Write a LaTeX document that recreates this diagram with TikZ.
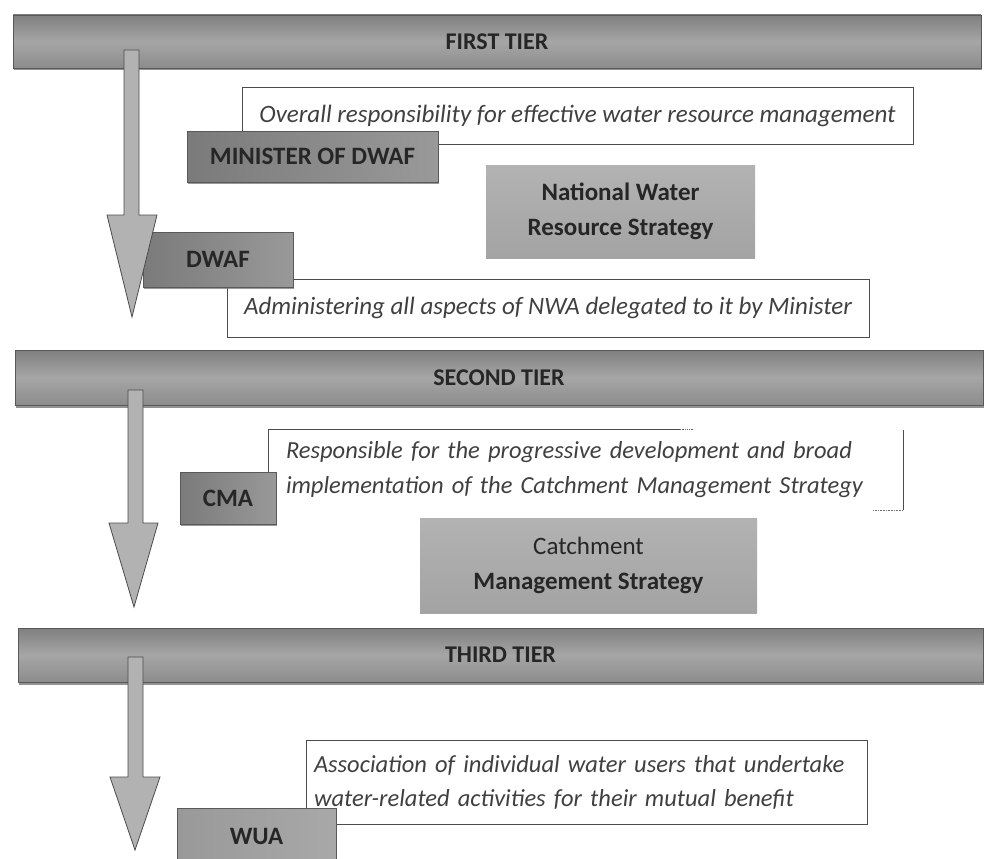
\documentclass[tikz,border=0pt]{standalone}
\usepackage{fontspec}
\setmainfont{Carlito}
\usetikzlibrary{calc,shadows}
\begin{document}
\begin{tikzpicture}[x=1pt,y=-1pt,
  tierbar/.style={rectangle, inner sep=0pt, draw=black!65, line width=0.8pt,
    top color=black!50, bottom color=black!45, middle color=black!35,
    drop shadow={shadow xshift=0.5pt, shadow yshift=-2.5pt, opacity=0.85},
    font=\fontsize{24}{28}\selectfont\bfseries, text=black!85},
  labelbox/.style={rectangle, inner sep=0pt, draw=black!65, line width=0.7pt,
    left color=black!52, right color=black!40,
    drop shadow={shadow xshift=1pt, shadow yshift=-2pt, opacity=0.8},
    font=\fontsize{25}{28}\selectfont\bfseries, text=black!85},
  stratbox/.style={rectangle, inner sep=0pt, draw=none,
    top color=black!30, bottom color=black!36,
    drop shadow={shadow xshift=0pt, shadow yshift=-2pt, opacity=0.7},
    font=\fontsize{25}{35}\selectfont, text=black!85, align=center},
  notebox/.style={rectangle, inner sep=0pt, draw=black!70, line width=0.8pt, fill=white,
    font=\fontsize{25}{34}\selectfont\itshape, text=black!75},
  notefree/.style={rectangle, inner sep=0pt, fill=white,
    font=\fontsize{24.5}{35}\selectfont\itshape, text=black!75},
  boxline/.style={draw=black!70, line width=0.8pt},
  flowarrow/.style={fill=black!30, draw=black!70, line width=0.8pt, line join=miter}
]
\useasboundingbox (0,0) rectangle (989,859);
\clip (0,0) rectangle (989,859);
\fill[white] (0,0) rectangle (989,859);

% ---------- FIRST TIER ----------
\node[tierbar, minimum width=968pt, minimum height=53pt] (t1) at (497,41.5) {FIRST TIER};

\node[notebox, minimum width=671pt, minimum height=57pt] (resp1) at (577.5,115.5)
  {Overall responsibility for effective water resource management};
\node[labelbox, minimum width=251pt, minimum height=51pt] (minister) at (312.5,156.5)
  {MINISTER OF DWAF};
\node[stratbox, minimum width=269pt, minimum height=92pt] (nwrs) at (620.5,211)
  {\bfseries National Water\\ \bfseries Resource Strategy};
\node[notebox, minimum width=642pt, minimum height=58pt] (admin) at (548,308)
  {Administering all aspects of NWA delegated to it by Minister};
\node[labelbox, minimum width=150pt, minimum height=55pt] (dwaf) at (218,259.5)
  {DWAF};

\coordinate (a1top) at (131.5,50);
\coordinate (a1tip) at (132,317);
\draw[flowarrow] ($(a1top)+(-7.5,0)$) -- ($(a1top)+(7.5,0)$) -- ($(a1top)+(7.5,165)$)
  -- ($(a1top)+(25.5,165)$) -- (a1tip) -- ($(a1top)+(-24.5,165)$)
  -- ($(a1top)+(-7.5,165)$) -- cycle;

% ---------- SECOND TIER ----------
\node[tierbar, minimum width=968pt, minimum height=55pt] (t2) at (499,377.5) {SECOND TIER};

\node[notefree, minimum width=634pt, minimum height=80pt, text width=600pt, align=left] (resp2) at (586,470)
  {Responsible for the progressive development and broad\\
   implementation of the Catchment Management Strategy};
\draw[boxline] (resp2.south west) -- (resp2.north west) -- ($(resp2.north west)+(411,0)$);
\draw[black!60, densely dotted, line width=0.8pt] ($(resp2.north west)+(411,0)$) -- ($(resp2.north west)+(425,0)$);
\draw[boxline] (resp2.north east) -- (resp2.south east);
\draw[black!55, densely dotted, line width=0.6pt] ($(resp2.south east)+(-30,0)$) -- (resp2.south east);
\node[labelbox, minimum width=96pt, minimum height=52pt] (cma) at (228,498) {CMA};
\node[stratbox, minimum width=337pt, minimum height=94pt] (cms) at (588.5,565)
  {Catchment\\ \bfseries Management Strategy};

\coordinate (a2top) at (135.5,390);
\coordinate (a2tip) at (134,607);
\draw[flowarrow] ($(a2top)+(-7.5,0)$) -- ($(a2top)+(7.5,0)$) -- ($(a2top)+(7.5,133)$)
  -- ($(a2top)+(22.5,133)$) -- (a2tip) -- ($(a2top)+(-26.5,133)$)
  -- ($(a2top)+(-7.5,133)$) -- cycle;

% ---------- THIRD TIER ----------
\node[tierbar, minimum width=965pt, minimum height=54pt] (t3) at (500.5,655) {THIRD TIER};

\node[notebox, minimum width=561pt, minimum height=84pt, text width=545pt, align=left,
  font=\fontsize{24.5}{34}\selectfont\itshape] (assoc) at (586.5,782)
  {Association of individual water users that undertake\\
   water-related activities for their mutual benefit};
\node[labelbox, minimum width=159pt, minimum height=56pt, left color=black!40, right color=black!34] (wua) at (256.5,836) {WUA};

\coordinate (a3top) at (135.5,657);
\coordinate (a3tip) at (135,850);
\draw[flowarrow] ($(a3top)+(-7.5,0)$) -- ($(a3top)+(7.5,0)$) -- ($(a3top)+(7.5,120)$)
  -- ($(a3top)+(24.5,120)$) -- (a3tip) -- ($(a3top)+(-25.5,120)$)
  -- ($(a3top)+(-7.5,120)$) -- cycle;
\end{tikzpicture}
\end{document}
